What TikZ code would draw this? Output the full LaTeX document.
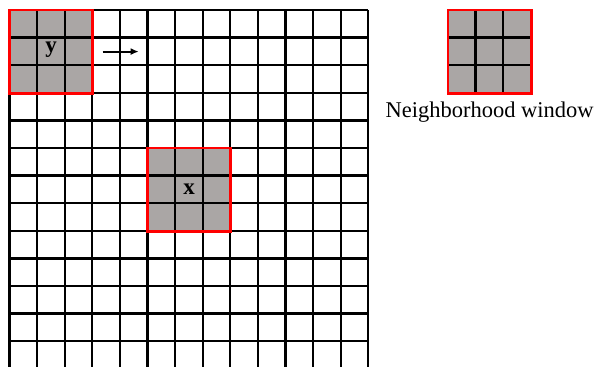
\documentclass[tikz,border=0pt]{standalone}
\usepackage{fontspec}
\setmainfont{Liberation Serif}
\usetikzlibrary{arrows.meta, positioning}
\definecolor{cellgray}{RGB}{170,166,165}

\begin{document}
\begin{tikzpicture}[
    x=1pt, y=-1pt,
    window/.style={rectangle, fill=cellgray, draw=none, inner sep=0pt,
                minimum size=82.8pt, anchor=north west},
    gridline/.style={draw=black, line width=2.3pt},
    frame/.style={draw=red, line width=2.8pt},
    pixlabel/.style={font=\fontsize{23}{26}\selectfont\bfseries},
    caption/.style={font=\fontsize{22.5}{27}\selectfont},
    arrow/.style={-{Latex[length=8pt,width=7pt]}, line width=2.1pt},
]
\useasboundingbox (0,0) rectangle (599,367);
\def\cell{27.6}

% Fenster (Fuellung)
\node[window] (ywin) at (9.5,10) {};
\node[window] (xwin) at (9.5+5*\cell,10+5*\cell) {};
\node[window] (nbwin) at (448,10) {};

% Bildraster
\foreach \i in {0,...,13}
    \draw[gridline] (9.5+\i*\cell,10) -- (9.5+\i*\cell,367);
\foreach \j in {0,...,12}
    \draw[gridline] (9.5,10+\j*\cell) -- (9.5+13*\cell,10+\j*\cell);

% Raster im Nachbarschaftsfenster
\foreach \k in {1,2} {
    \draw[gridline] ([xshift=\k*\cell pt]nbwin.north west) -- ([xshift=\k*\cell pt]nbwin.south west);
    \draw[gridline] ([yshift=-\k*\cell pt]nbwin.north west) -- ([yshift=-\k*\cell pt]nbwin.north east);
}

% Rahmen
\draw[frame] (ywin.north west) rectangle (ywin.south east);
\draw[frame] (xwin.north west) rectangle (xwin.south east);
\draw[frame] (nbwin.north west) rectangle (nbwin.south east);

% Beschriftungen
\node[pixlabel] (ylabel) at ([yshift=2pt]ywin.center) {y};
\node[pixlabel] (xlabel) at (xwin.center) {x};
\node[caption, below=5pt of nbwin] (nbcaption) {Neighborhood window};

% Pfeil
\coordinate (arrowtail) at ([xshift=10pt]ywin.east);
\coordinate (arrowtip) at ([xshift=46pt]ywin.east);
\draw[arrow] (arrowtail) -- (arrowtip);

\end{tikzpicture}
\end{document}
